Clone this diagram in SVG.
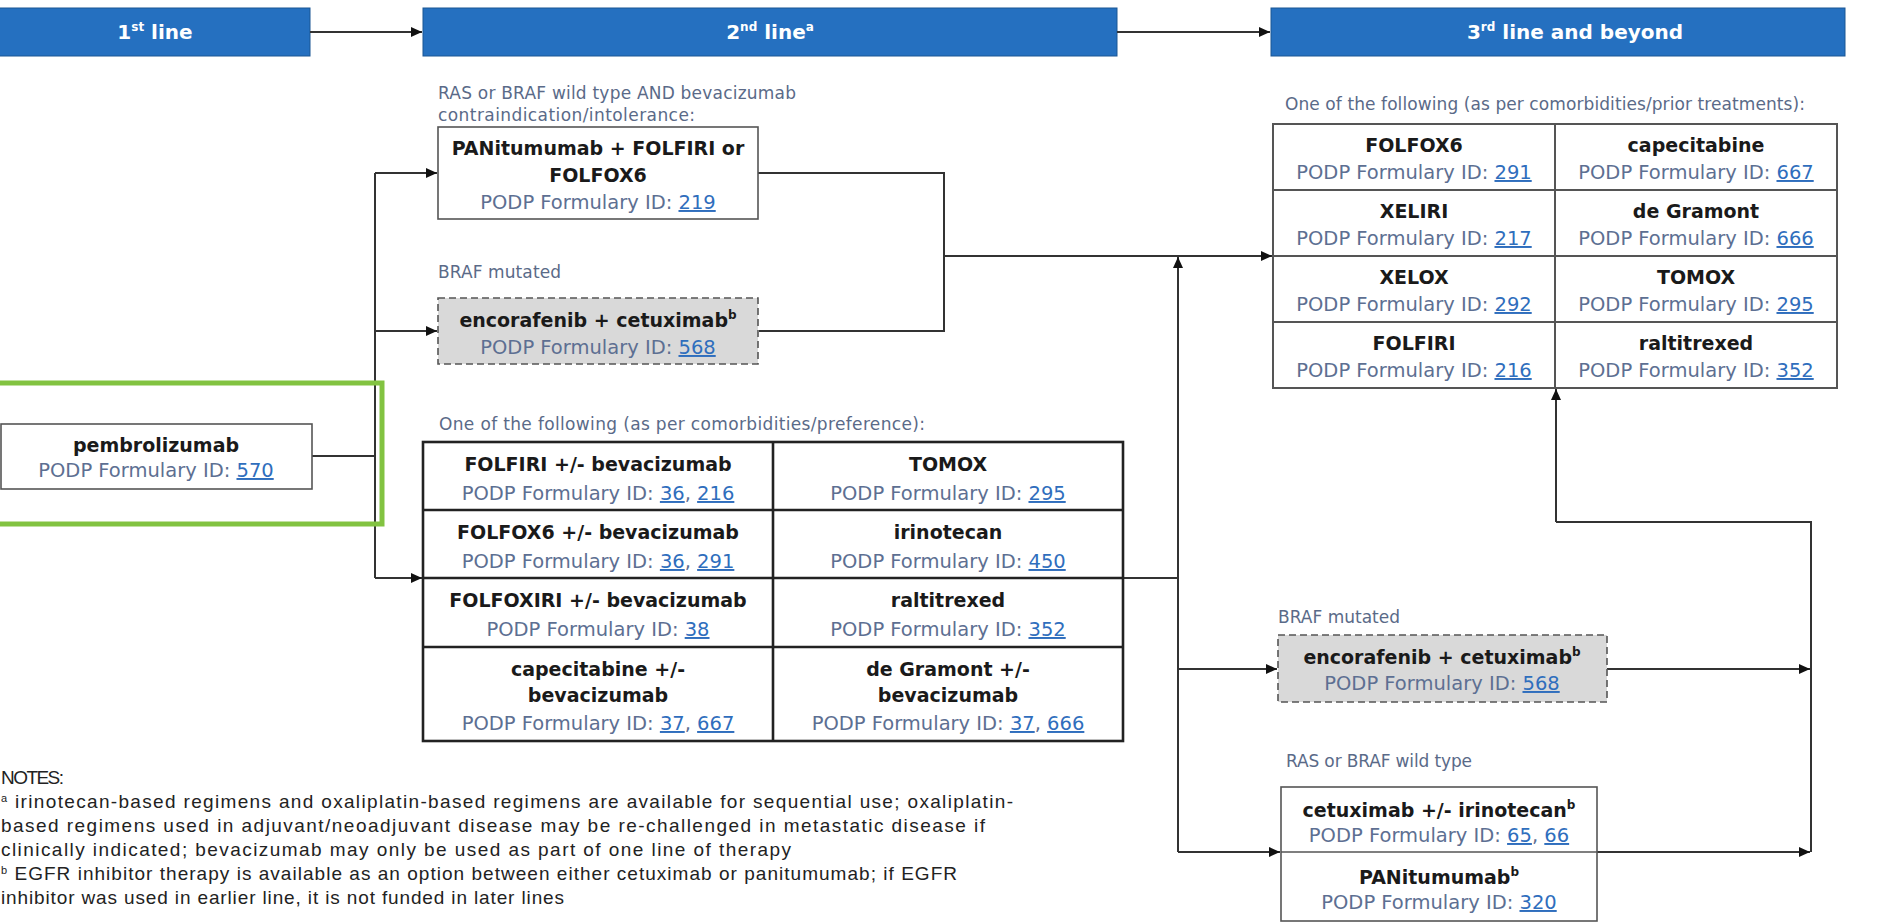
<svg xmlns="http://www.w3.org/2000/svg" width="1883" height="923" viewBox="0 0 1883 923">
<style>
.bar{fill:#2570c0;stroke:#1b5694;stroke-width:1}
.hd{font-family:"DejaVu Sans",sans-serif;font-weight:bold;font-size:20px;fill:#ffffff;text-anchor:middle}
.box{fill:#ffffff;stroke:#555555;stroke-width:1.6}
.dbox{fill:#d9d9d9;stroke:#555555;stroke-width:1.6;stroke-dasharray:7 4}
.tbl2{fill:#ffffff;stroke:#222222;stroke-width:2.6}
.div2{stroke:#222222;stroke-width:2.6}
.tbl3{fill:#ffffff;stroke:#555555;stroke-width:2}
.div3{stroke:#555555;stroke-width:2}
.b{font-family:"DejaVu Sans",sans-serif;font-weight:bold;font-size:19px;fill:#1a1a1a;text-anchor:middle}
.id{font-family:"DejaVu Sans",sans-serif;font-size:19.5px;fill:#5d6f92;text-anchor:middle}
.lk{fill:#2f6ebd;text-decoration:underline}
.lbl{font-family:"DejaVu Sans",sans-serif;font-size:17px;fill:#5a6a88}
.note{font-family:"Liberation Sans",sans-serif;font-size:19px;fill:#222222}
.cn{fill:none;stroke:#333333;stroke-width:2}
.ar{marker-end:url(#ah)}
</style>
<defs>
<marker id="ah" markerUnits="userSpaceOnUse" markerWidth="11" markerHeight="10" refX="11" refY="5" orient="auto">
<path d="M0,0 L11,5 L0,10 z" fill="#111111"/>
</marker>
</defs>
<rect x="0" y="0" width="1883" height="923" fill="#ffffff"/>

<g id="headers">
<g id="h1"><rect class="bar" x="-1" y="8" width="311" height="48"/><text class="hd" x="155" y="39">1<tspan font-size="12" dy="-8">st</tspan><tspan dy="8"> line</tspan></text></g>
<g id="h2"><rect class="bar" x="423" y="8" width="694" height="48"/><text class="hd" x="770" y="39">2<tspan font-size="12" dy="-8">nd</tspan><tspan dy="8"> line</tspan><tspan font-size="12" dy="-8">a</tspan></text></g>
<g id="h3"><rect class="bar" x="1271" y="8" width="574" height="48"/><text class="hd" x="1575" y="39">3<tspan font-size="12" dy="-8">rd</tspan><tspan dy="8"> line and beyond</tspan></text></g>
</g>

<g id="connectors">
<path class="cn ar" d="M310,32 H422"/>
<path class="cn ar" d="M1117,32 H1270"/>
<path class="cn" d="M312,456 H375"/>
<path class="cn" d="M375,173 V578"/>
<path class="cn ar" d="M375,173 H437"/>
<path class="cn ar" d="M375,331 H437"/>
<path class="cn ar" d="M375,578 H422"/>
<path class="cn" d="M758,173 H944 V331 H759"/>
<path class="cn ar" d="M944,256 H1272"/>
<path class="cn" d="M1123,578 H1178"/>
<path class="cn ar" d="M1178,852 V257"/>
<path class="cn ar" d="M1178,669 H1277"/>
<path class="cn ar" d="M1178,852 H1280"/>
<path class="cn ar" d="M1607,669 H1810"/>
<path class="cn ar" d="M1597,852 H1810"/>
<path class="cn" d="M1811,852 V522 H1556"/>
<path class="cn ar" d="M1556,522 V389"/>
</g>

<g id="first-line">
<rect x="-6" y="383" width="388" height="141" fill="none" stroke="#82c341" stroke-width="5"/>
<g id="pembrolizumab">
<rect class="box" x="1" y="424" width="311" height="65"/>
<text class="b" x="156" y="452">pembrolizumab</text>
<text class="id" x="156" y="477">PODP Formulary ID: <tspan class="lk">570</tspan></text>
</g>
</g>

<g id="second-line-labels">
<text class="lbl" x="438" y="99" textLength="358">RAS or BRAF wild type AND bevacizumab</text>
<text class="lbl" x="438" y="121" textLength="257">contraindication/intolerance:</text>
<text class="lbl" x="438" y="278" textLength="123">BRAF mutated</text>
<text class="lbl" x="439" y="430" textLength="486">One of the following (as per comorbidities/preference):</text>
</g>

<g id="pan-folfiri">
<rect class="box" x="438" y="127" width="320" height="92"/>
<text class="b" x="598" y="155">PANitumumab + FOLFIRI or</text>
<text class="b" x="598" y="182">FOLFOX6</text>
<text class="id" x="598" y="209">PODP Formulary ID: <tspan class="lk">219</tspan></text>
</g>

<g id="enco-2nd">
<rect class="dbox" x="438" y="298" width="320" height="66"/>
<text class="b" x="598" y="327">encorafenib + cetuximab<tspan font-size="12" dy="-8">b</tspan></text>
<text class="id" x="598" y="354">PODP Formulary ID: <tspan class="lk">568</tspan></text>
</g>

<g id="table-2nd">
<rect class="tbl2" x="423" y="442" width="700" height="299"/>
<line class="div2" x1="423" y1="510" x2="1123" y2="510"/>
<line class="div2" x1="423" y1="578" x2="1123" y2="578"/>
<line class="div2" x1="423" y1="647" x2="1123" y2="647"/>
<line class="div2" x1="773" y1="442" x2="773" y2="741"/>
<text class="b" x="598" y="471">FOLFIRI +/- bevacizumab</text>
<text class="id" x="598" y="500">PODP Formulary ID: <tspan class="lk">36</tspan>, <tspan class="lk">216</tspan></text>
<text class="b" x="598" y="539">FOLFOX6 +/- bevacizumab</text>
<text class="id" x="598" y="568">PODP Formulary ID: <tspan class="lk">36</tspan>, <tspan class="lk">291</tspan></text>
<text class="b" x="598" y="607">FOLFOXIRI +/- bevacizumab</text>
<text class="id" x="598" y="636">PODP Formulary ID: <tspan class="lk">38</tspan></text>
<text class="b" x="598" y="676">capecitabine +/-</text>
<text class="b" x="598" y="702">bevacizumab</text>
<text class="id" x="598" y="730">PODP Formulary ID: <tspan class="lk">37</tspan>, <tspan class="lk">667</tspan></text>
<text class="b" x="948" y="471">TOMOX</text>
<text class="id" x="948" y="500">PODP Formulary ID: <tspan class="lk">295</tspan></text>
<text class="b" x="948" y="539">irinotecan</text>
<text class="id" x="948" y="568">PODP Formulary ID: <tspan class="lk">450</tspan></text>
<text class="b" x="948" y="607">raltitrexed</text>
<text class="id" x="948" y="636">PODP Formulary ID: <tspan class="lk">352</tspan></text>
<text class="b" x="948" y="676">de Gramont +/-</text>
<text class="b" x="948" y="702">bevacizumab</text>
<text class="id" x="948" y="730">PODP Formulary ID: <tspan class="lk">37</tspan>, <tspan class="lk">666</tspan></text>
</g>

<g id="third-line-labels">
<text class="lbl" x="1285" y="110" textLength="520">One of the following (as per comorbidities/prior treatments):</text>
<text class="lbl" x="1278" y="623" textLength="122">BRAF mutated</text>
<text class="lbl" x="1286" y="767" textLength="186">RAS or BRAF wild type</text>
</g>

<g id="table-3rd">
<rect class="tbl3" x="1273" y="124" width="564" height="264"/>
<line class="div3" x1="1273" y1="190" x2="1837" y2="190"/>
<line class="div3" x1="1273" y1="256" x2="1837" y2="256"/>
<line class="div3" x1="1273" y1="322" x2="1837" y2="322"/>
<line class="div3" x1="1555" y1="124" x2="1555" y2="388"/>
<text class="b" x="1414" y="152">FOLFOX6</text>
<text class="id" x="1414" y="179">PODP Formulary ID: <tspan class="lk">291</tspan></text>
<text class="b" x="1414" y="218">XELIRI</text>
<text class="id" x="1414" y="245">PODP Formulary ID: <tspan class="lk">217</tspan></text>
<text class="b" x="1414" y="284">XELOX</text>
<text class="id" x="1414" y="311">PODP Formulary ID: <tspan class="lk">292</tspan></text>
<text class="b" x="1414" y="350">FOLFIRI</text>
<text class="id" x="1414" y="377">PODP Formulary ID: <tspan class="lk">216</tspan></text>
<text class="b" x="1696" y="152">capecitabine</text>
<text class="id" x="1696" y="179">PODP Formulary ID: <tspan class="lk">667</tspan></text>
<text class="b" x="1696" y="218">de Gramont</text>
<text class="id" x="1696" y="245">PODP Formulary ID: <tspan class="lk">666</tspan></text>
<text class="b" x="1696" y="284">TOMOX</text>
<text class="id" x="1696" y="311">PODP Formulary ID: <tspan class="lk">295</tspan></text>
<text class="b" x="1696" y="350">raltitrexed</text>
<text class="id" x="1696" y="377">PODP Formulary ID: <tspan class="lk">352</tspan></text>
</g>

<g id="enco-3rd">
<rect class="dbox" x="1278" y="635" width="329" height="67"/>
<text class="b" x="1442" y="664">encorafenib + cetuximab<tspan font-size="12" dy="-8">b</tspan></text>
<text class="id" x="1442" y="690">PODP Formulary ID: <tspan class="lk">568</tspan></text>
</g>

<g id="egfr-3rd">
<rect class="box" x="1281" y="787" width="316" height="134"/>
<line x1="1281" y1="852" x2="1597" y2="852" stroke="#555555" stroke-width="1.6"/>
<text class="b" x="1439" y="817">cetuximab +/- irinotecan<tspan font-size="12" dy="-8">b</tspan></text>
<text class="id" x="1439" y="842">PODP Formulary ID: <tspan class="lk">65</tspan>, <tspan class="lk">66</tspan></text>
<text class="b" x="1439" y="884">PANitumumab<tspan font-size="12" dy="-8">b</tspan></text>
<text class="id" x="1439" y="909">PODP Formulary ID: <tspan class="lk">320</tspan></text>
</g>

<g id="notes">
<text class="note" x="1" y="784" textLength="63">NOTES:</text>
<text class="note" x="1" y="808" textLength="1012"><tspan font-size="11" dy="-6">a</tspan><tspan dy="6"> irinotecan-based regimens and oxaliplatin-based regimens are available for sequential use; oxaliplatin-</tspan></text>
<text class="note" x="1" y="832" textLength="984">based regimens used in adjuvant/neoadjuvant disease may be re-challenged in metastatic disease if</text>
<text class="note" x="1" y="856" textLength="790">clinically indicated; bevacizumab may only be used as part of one line of therapy</text>
<text class="note" x="1" y="880" textLength="956"><tspan font-size="11" dy="-6">b</tspan><tspan dy="6"> EGFR inhibitor therapy is available as an option between either cetuximab or panitumumab; if EGFR</tspan></text>
<text class="note" x="1" y="904" textLength="563">inhibitor was used in earlier line, it is not funded in later lines</text>
</g>
</svg>
